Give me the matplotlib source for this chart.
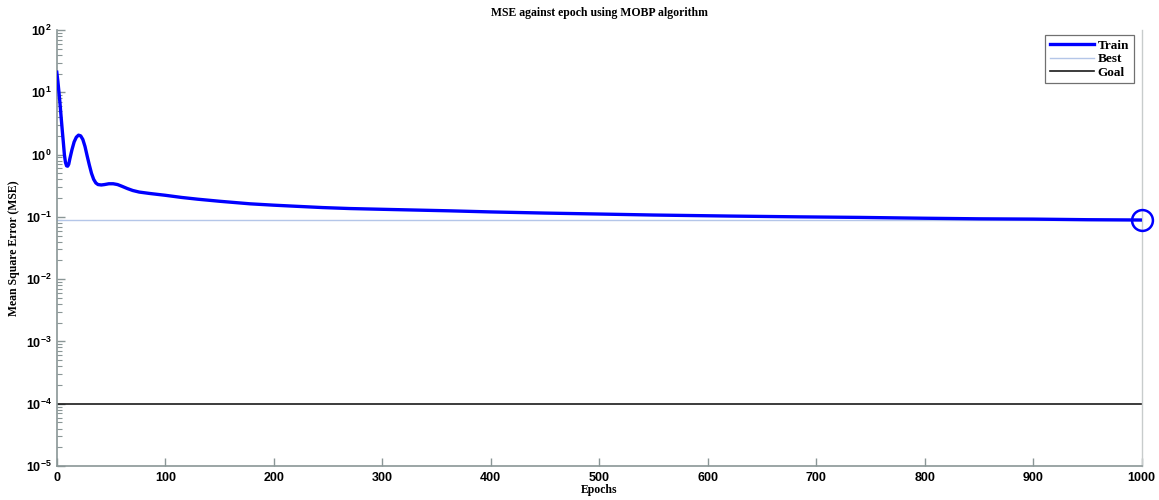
import numpy as np
import matplotlib.pyplot as plt
from matplotlib.ticker import LogLocator, NullFormatter

# Values
epochs = [0, 1, 2, 3, 4, 5, 6, 7, 8, 9, 10, 11, 12, 14, 16, 18, 20, 22, 24, 26,
          28, 30, 32, 34, 36, 38, 41, 44, 48, 52, 56, 60, 65, 70, 76, 86, 100,
          115, 130, 150, 178, 200, 220, 245, 270, 310, 362, 400, 450, 500, 550,
          620, 685, 740, 800, 850, 900, 950, 1000]
train_mse = [21, 15, 10, 6.5, 4.0, 2.5, 1.6, 1.0, 0.75, 0.66, 0.65, 0.7, 0.85,
             1.2, 1.6, 1.9, 2.05, 2.0, 1.75, 1.35, 0.95, 0.68, 0.5, 0.4, 0.35,
             0.33, 0.325, 0.33, 0.34, 0.34, 0.33, 0.31, 0.285, 0.265, 0.25,
             0.237, 0.222, 0.205, 0.192, 0.178, 0.162, 0.154, 0.148, 0.141,
             0.136, 0.131, 0.125, 0.12, 0.115, 0.111, 0.107, 0.103, 0.1, 0.098,
             0.095, 0.093, 0.092, 0.09, 0.089]
best_epoch = 1000
best_mse = 0.089
goal_mse = 1e-4

serif = ['Liberation Serif', 'DejaVu Serif']
sans = ['Liberation Sans', 'DejaVu Sans']
plt.rcParams['mathtext.fontset'] = 'custom'
plt.rcParams['mathtext.rm'] = 'Liberation Sans:bold'
plt.rcParams['mathtext.it'] = 'Liberation Sans:bold'

fig = plt.figure(figsize=(11.59, 5.0), dpi=100)
ax = fig.add_axes([0.049, 0.068, 0.936, 0.872])

ax.plot(epochs, train_mse, color='#0000ff', lw=2.4, label='Train', zorder=3,
        solid_joinstyle='round')
ax.axhline(best_mse, color='#b4c6e8', lw=1.0, label='Best', zorder=2)
ax.axhline(goal_mse, color='#1a1a1a', lw=1.2, label='Goal', zorder=2)
ax.plot([best_epoch], [best_mse], 'o', ms=15, mfc='none', mec='#0000ff', mew=1.8,
        clip_on=False, zorder=4)

ax.set_yscale('log')
ax.set_xlim(0, 1000)
ax.set_ylim(1e-5, 1e2)
ax.set_xticks(range(0, 1001, 100))
ax.yaxis.set_major_locator(LogLocator(base=10, numticks=10))
ax.yaxis.set_minor_locator(LogLocator(base=10, subs=np.arange(2, 10), numticks=100))
ax.yaxis.set_minor_formatter(NullFormatter())

ax.tick_params(axis='both', which='major', direction='in', length=6, width=1,
               color='#8a9696', labelsize=9)
ax.tick_params(axis='y', which='minor', direction='in', length=3.5, width=0.8,
               color='#8a9696')
ax.tick_params(axis='x', pad=4)
for lbl in ax.get_xticklabels() + ax.get_yticklabels():
    lbl.set_family(sans)
    lbl.set_fontweight('bold')

for side in ['left', 'bottom']:
    ax.spines[side].set_color('#8a9696')
    ax.spines[side].set_linewidth(1.2)
ax.spines['right'].set_color('#c8cccc')
ax.spines['right'].set_linewidth(1.0)
ax.spines['top'].set_visible(False)

ax.set_title('MSE against epoch using MOBP algorithm', family=serif,
             fontweight='bold', fontsize=8.5, pad=10)
ax.set_xlabel('Epochs', family=serif, fontweight='bold', fontsize=8.5, labelpad=0)
ax.set_ylabel('Mean Square Error (MSE)', family=serif, fontweight='bold',
              fontsize=8.5, labelpad=4)

leg = ax.legend(loc='upper right', bbox_to_anchor=(0.995, 0.995),
                prop={'family': serif, 'weight': 'bold', 'size': 9.5},
                fancybox=False, framealpha=1, edgecolor='#707070',
                handlelength=3.3, handletextpad=0.3, borderpad=0.35,
                labelspacing=0.1, borderaxespad=0.2)
leg.get_frame().set_linewidth(0.9)

fig.savefig('out.png', dpi=100)
